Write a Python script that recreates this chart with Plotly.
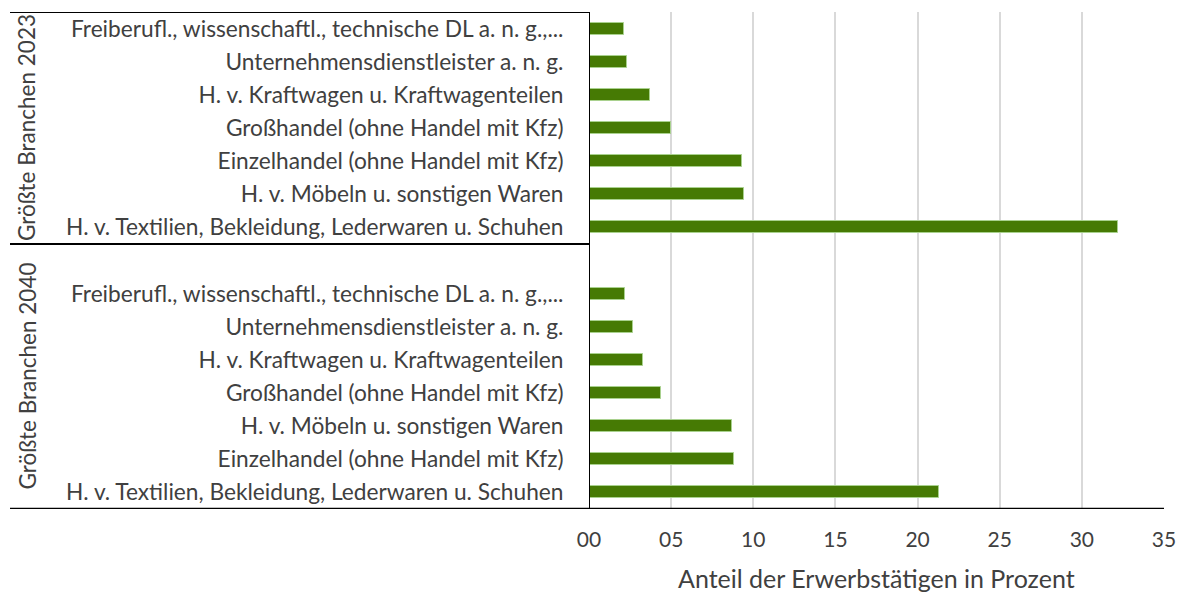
import plotly.graph_objects as go

# ---- data ----
group_names = ["Größte Branchen 2023", "Größte Branchen 2040"]

labels_2023 = [
    "Freiberufl., wissenschaftl., technische DL a. n. g.,...",
    "Unternehmensdienstleister a. n. g.",
    "H. v. Kraftwagen u. Kraftwagenteilen",
    "Großhandel (ohne Handel mit Kfz)",
    "Einzelhandel (ohne Handel mit Kfz)",
    "H. v. Möbeln u. sonstigen Waren",
    "H. v. Textilien, Bekleidung, Lederwaren u. Schuhen",
]
values_2023 = [2.1, 2.3, 3.7, 5.0, 9.3, 9.45, 32.2]

labels_2040 = [
    "Freiberufl., wissenschaftl., technische DL a. n. g.,...",
    "Unternehmensdienstleister a. n. g.",
    "H. v. Kraftwagen u. Kraftwagenteilen",
    "Großhandel (ohne Handel mit Kfz)",
    "H. v. Möbeln u. sonstigen Waren",
    "Einzelhandel (ohne Handel mit Kfz)",
    "H. v. Textilien, Bekleidung, Lederwaren u. Schuhen",
]
values_2040 = [2.2, 2.7, 3.3, 4.4, 8.7, 8.8, 21.3]

x_tickvals = [0, 5, 10, 15, 20, 25, 30, 35]
x_ticktext = ["00", "05", "10", "15", "20", "25", "30", "35"]
x_title = "Anteil der Erwerbstätigen in Prozent"

# ---- positions (slot index from top; one empty slot heads the 2040 group) ----
pos_2023 = list(range(len(labels_2023)))
start_2040 = len(labels_2023) + 1
pos_2040 = [start_2040 + i for i in range(len(labels_2040))]
n_slots = start_2040 + len(labels_2040)

all_pos = pos_2023 + pos_2040
all_labels = labels_2023 + labels_2040
all_values = values_2023 + values_2040

FONT = "Lato, Carlito, Calibri, sans-serif"
TXT = "#404040"
BAR = "#467a04"

fig = go.Figure()
fig.add_trace(go.Bar(
    x=all_values, y=all_pos, orientation="h",
    width=0.36,
    marker=dict(color=BAR, line=dict(color="#a9d18e", width=1)),
    hoverinfo="x",
))

W, H = 1182, 592
L, R, T, B = 589, 18, 12, 83
plot_w = W - L - R
plot_h = H - T - B
left_px = 10
left_paper = (left_px - L) / plot_w

shapes = []
sep_y = len(labels_2023) - 0.5
top_y = -0.5
bot_y = n_slots - 0.5
shapes.append(dict(type="line", xref="paper", yref="y", x0=left_paper, x1=0,
                   y0=top_y, y1=top_y, line=dict(color="black", width=2)))
shapes.append(dict(type="line", xref="paper", yref="y", x0=left_paper, x1=0,
                   y0=sep_y, y1=sep_y, line=dict(color="black", width=2)))
shapes.append(dict(type="line", xref="paper", yref="y", x0=left_paper, x1=1,
                   y0=bot_y, y1=bot_y, line=dict(color="black", width=2.5)))
shapes.append(dict(type="line", xref="x", yref="y", x0=0, x1=0,
                   y0=top_y, y1=bot_y, line=dict(color="black", width=2)))

annotations = []
group_centers = [(top_y + sep_y) / 2, (sep_y + bot_y) / 2]
for name, yc in zip(group_names, group_centers):
    annotations.append(dict(
        text=name, xref="paper", yref="y", x=(27 - L) / plot_w, y=yc,
        showarrow=False, textangle=-90, xanchor="center", yanchor="middle",
        font=dict(family=FONT, size=22.5, color=TXT),
    ))
annotations.append(dict(
    text=x_title, xref="paper", yref="paper", x=0.5, y=-(578 - (H - B)) / plot_h,
    showarrow=False, xanchor="center", yanchor="middle",
    font=dict(family=FONT, size=25, color=TXT),
))

fig.update_layout(
    width=W, height=H,
    margin=dict(l=L, r=R, t=T, b=B, pad=0, autoexpand=False),
    paper_bgcolor="white", plot_bgcolor="white",
    showlegend=False,
    bargap=0,
    shapes=shapes,
    annotations=annotations,
    font=dict(family=FONT, size=22, color=TXT),
    xaxis=dict(
        range=[0, 35], tickvals=x_tickvals, ticktext=x_ticktext,
        showgrid=True, gridcolor="#d9d9d9", gridwidth=2,
        zeroline=False, showline=False, automargin=False,
        ticks="outside", ticklen=0, ticklabelstandoff=12,
        tickfont=dict(family=FONT, size=21, color=TXT),
    ),
    yaxis=dict(
        range=[bot_y, top_y],
        tickvals=all_pos, ticktext=all_labels,
        showgrid=False, zeroline=False, showline=False, automargin=False,
        ticks="outside", ticklen=0, ticklabelstandoff=20,
        tickfont=dict(family=FONT, size=22.7, color=TXT),
    ),
)

fig.write_html(
    "out.html",
    config={"displayModeBar": False},
    post_script="document.body.style.margin='0';document.body.style.overflow='hidden';",
)
